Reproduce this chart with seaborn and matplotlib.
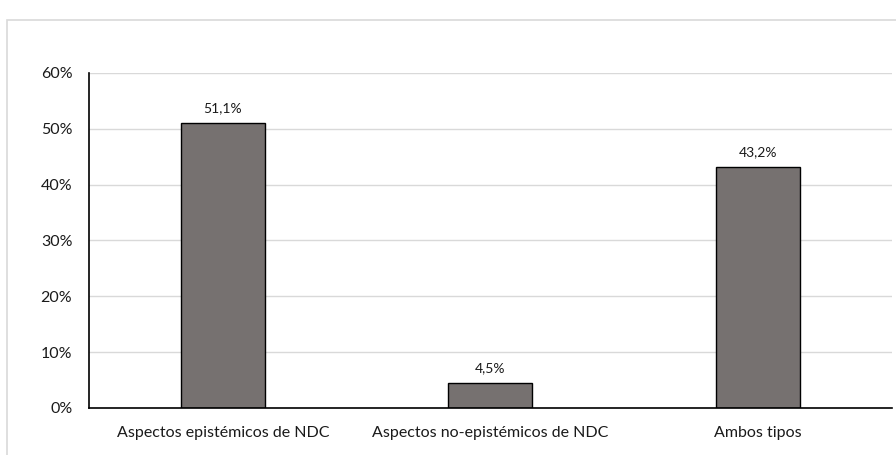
import matplotlib
matplotlib.use("Agg")
import matplotlib.pyplot as plt
from matplotlib.patches import Rectangle
from matplotlib.ticker import PercentFormatter
import seaborn as sns
import pandas as pd

categorias = ["Aspectos epistémicos de NDC", "Aspectos no-epistémicos de NDC", "Ambos tipos"]
porcentajes = [51.1, 4.5, 43.2]
etiquetas = ["51,1%", "4,5%", "43,2%"]

sns.set_theme(style="white")
plt.rcParams["font.family"] = ["Lato", "DejaVu Sans"]

df = pd.DataFrame({"categoria": categorias, "porcentaje": porcentajes})

fig = plt.figure(figsize=(8.96, 4.55), dpi=100)
ax = fig.add_axes([0.0993, 0.1033, 0.8962, 0.7363])

sns.barplot(data=df, x="categoria", y="porcentaje", color="#767170",
            edgecolor="black", linewidth=1.0, width=0.314, saturation=1, ax=ax)

for patch, txt in zip(ax.patches, etiquetas):
    ax.annotate(txt, (patch.get_x() + patch.get_width() / 2, patch.get_height()),
                xytext=(0, 6), textcoords="offset points",
                ha="center", va="bottom", fontsize=10, color="#1a1a1a")

ax.set_ylim(0, 60)
ax.set_yticks([0, 10, 20, 30, 40, 50, 60])
ax.yaxis.set_major_formatter(PercentFormatter(decimals=0))
ax.set_xlim(-0.5, 2.5)
ax.set_xlabel("")
ax.set_ylabel("")
ax.yaxis.grid(True, color="#d9d9d9", linewidth=1.0)
ax.set_axisbelow(True)
for s in ["top", "right"]:
    ax.spines[s].set_visible(False)
for s in ["left", "bottom"]:
    ax.spines[s].set_color("black")
    ax.spines[s].set_linewidth(1.2)
ax.tick_params(axis="y", length=0, pad=12, labelsize=11.5, labelcolor="#1a1a1a")
ax.tick_params(axis="x", length=0, pad=13, labelsize=11.5, labelcolor="#1a1a1a")

# chart area outline
fig.add_artist(Rectangle((7 / 896, -0.1), 1.2, 1.078 - 10 / 455,
                         transform=fig.transFigure, fill=False,
                         edgecolor="#d9d9d9", linewidth=1.2))

fig.savefig("out.png", dpi=100, facecolor="white")
